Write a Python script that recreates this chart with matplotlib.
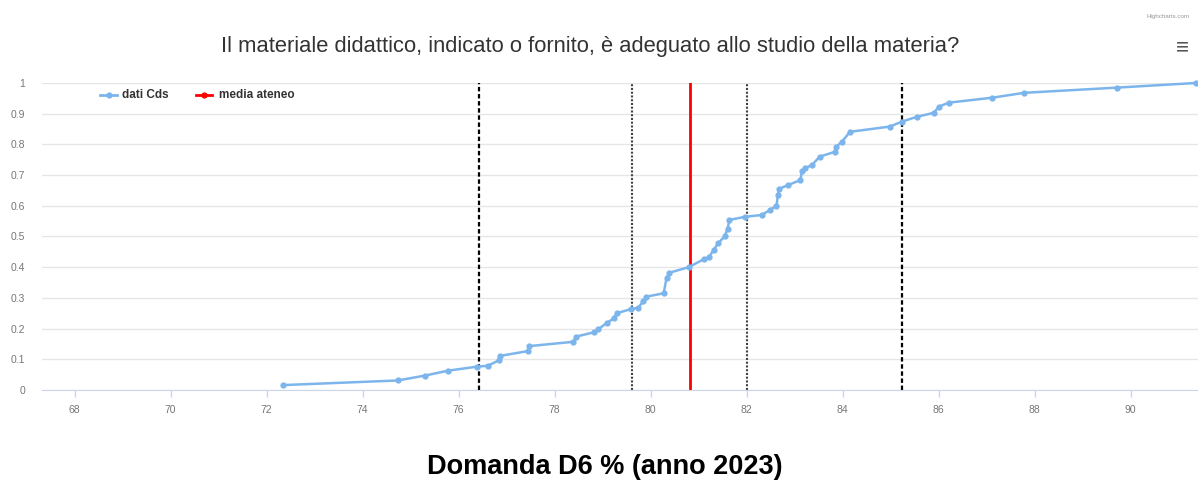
import numpy as np
import matplotlib.pyplot as plt
from matplotlib.ticker import FuncFormatter

# cumulative distribution of course scores (dati CdS)
x_cds = [72.34, 74.73, 75.30, 75.78, 76.38, 76.61, 76.84, 76.86, 77.45, 77.47,
         78.39, 78.45, 78.82, 78.91, 79.08, 79.24, 79.29, 79.60, 79.74, 79.85,
         79.91, 80.27, 80.33, 80.39, 80.79, 81.12, 81.21, 81.31, 81.41, 81.54,
         81.60, 81.64, 81.96, 82.31, 82.48, 82.62, 82.65, 82.67, 82.87, 83.12,
         83.15, 83.21, 83.36, 83.52, 83.84, 83.86, 83.98, 84.15, 84.98, 85.23,
         85.55, 85.90, 86.00, 86.21, 87.11, 87.78, 89.72, 91.35]
y_cds = [0.016, 0.031, 0.047, 0.063, 0.076, 0.079, 0.097, 0.111, 0.127, 0.143,
         0.157, 0.174, 0.188, 0.198, 0.218, 0.234, 0.250, 0.264, 0.268, 0.290,
         0.304, 0.315, 0.365, 0.382, 0.400, 0.427, 0.432, 0.456, 0.479, 0.500,
         0.525, 0.554, 0.564, 0.570, 0.586, 0.600, 0.635, 0.655, 0.668, 0.684,
         0.713, 0.722, 0.733, 0.760, 0.776, 0.792, 0.808, 0.841, 0.858, 0.874,
         0.890, 0.903, 0.923, 0.936, 0.952, 0.968, 0.985, 1.0]

media_ateneo = 80.81
dashed_lines = [76.42, 85.23]
dotted_lines = [79.61, 82.00]

x_ticks = [68, 70, 72, 74, 76, 78, 80, 82, 84, 86, 88, 90]
y_ticks = [0, 0.1, 0.2, 0.3, 0.4, 0.5, 0.6, 0.7, 0.8, 0.9, 1]

title = 'Il materiale didattico, indicato o fornito, è adeguato allo studio della materia?'
subtitle = 'Domanda D6 % (anno 2023)'

if __name__ == '__main__':
    plt.rcParams['font.family'] = ['Liberation Sans', 'DejaVu Sans']
    fig = plt.figure(figsize=(11.98, 4.8), dpi=100)
    ax = fig.add_axes([0.035, 0.1875, 0.965, 0.6396])

    for yt in y_ticks:
        ax.axhline(yt, color='#e6e6e6', linewidth=1, zorder=0)

    for xv in dashed_lines:
        ax.axvline(xv, color='black', linewidth=1.6, linestyle=(0, (2, 1.2)), zorder=2)
    for xv in dotted_lines:
        ax.axvline(xv, color='#444444', linewidth=1.5, linestyle=(0, (1, 0.8)), zorder=2)
    ax.axvline(media_ateneo, color='#ff0000', linewidth=2, zorder=2)

    ax.plot(x_cds, y_cds, color='#7cb5ec', linewidth=1.8, marker='o', markersize=3.5,
            zorder=3, clip_on=False)

    ax.set_xlim(67.32, 91.4)
    ax.set_ylim(0, 1)
    ax.set_xticks(x_ticks)
    ax.set_yticks(y_ticks)
    ax.yaxis.set_major_formatter(FuncFormatter(lambda v, p: f'{v:g}'))
    ax.tick_params(axis='x', colors='#ccd6eb', labelcolor='#777777', labelsize=7.5,
                   length=5, width=1, pad=6)
    ax.tick_params(axis='y', length=0, labelcolor='#777777', labelsize=7.5, pad=12)
    for lab in ax.get_yticklabels():
        lab.set_horizontalalignment('right')

    for side in ('top', 'right', 'left'):
        ax.spines[side].set_visible(False)
    ax.spines['bottom'].set_color('#ccd6eb')

    # legend drawn by hand (Highcharts style)
    ly = 0.961
    ax.plot([68.53, 68.89], [ly, ly], color='#7cb5ec', lw=2)
    ax.plot([68.71], [ly], 'o', color='#7cb5ec', ms=3.5)
    ax.text(68.99, ly, 'dati Cds', fontsize=8.5, fontweight='bold', color='#333333', va='center')
    ax.plot([70.52, 70.87], [ly, ly], color='#ff0000', lw=2)
    ax.plot([70.695], [ly], 'o', color='#ff0000', ms=3.5)
    ax.text(71.0, ly, 'media ateneo', fontsize=8.5, fontweight='bold', color='#333333', va='center')

    fig.text(0.4925, 0.903, title, ha='center', va='center', fontsize=15.8, color='#333333')
    fig.text(0.505, 0.027, subtitle, ha='center', va='center', fontsize=19.5, fontweight='bold',
             color='black')
    fig.text(0.975, 0.965, 'Highcharts.com', ha='center', va='center', fontsize=4.5, color='#999999')
    fig.text(0.987, 0.9, '≡', ha='center', va='center', fontsize=16, color='#555555')

    fig.savefig('out.png', dpi=100)
